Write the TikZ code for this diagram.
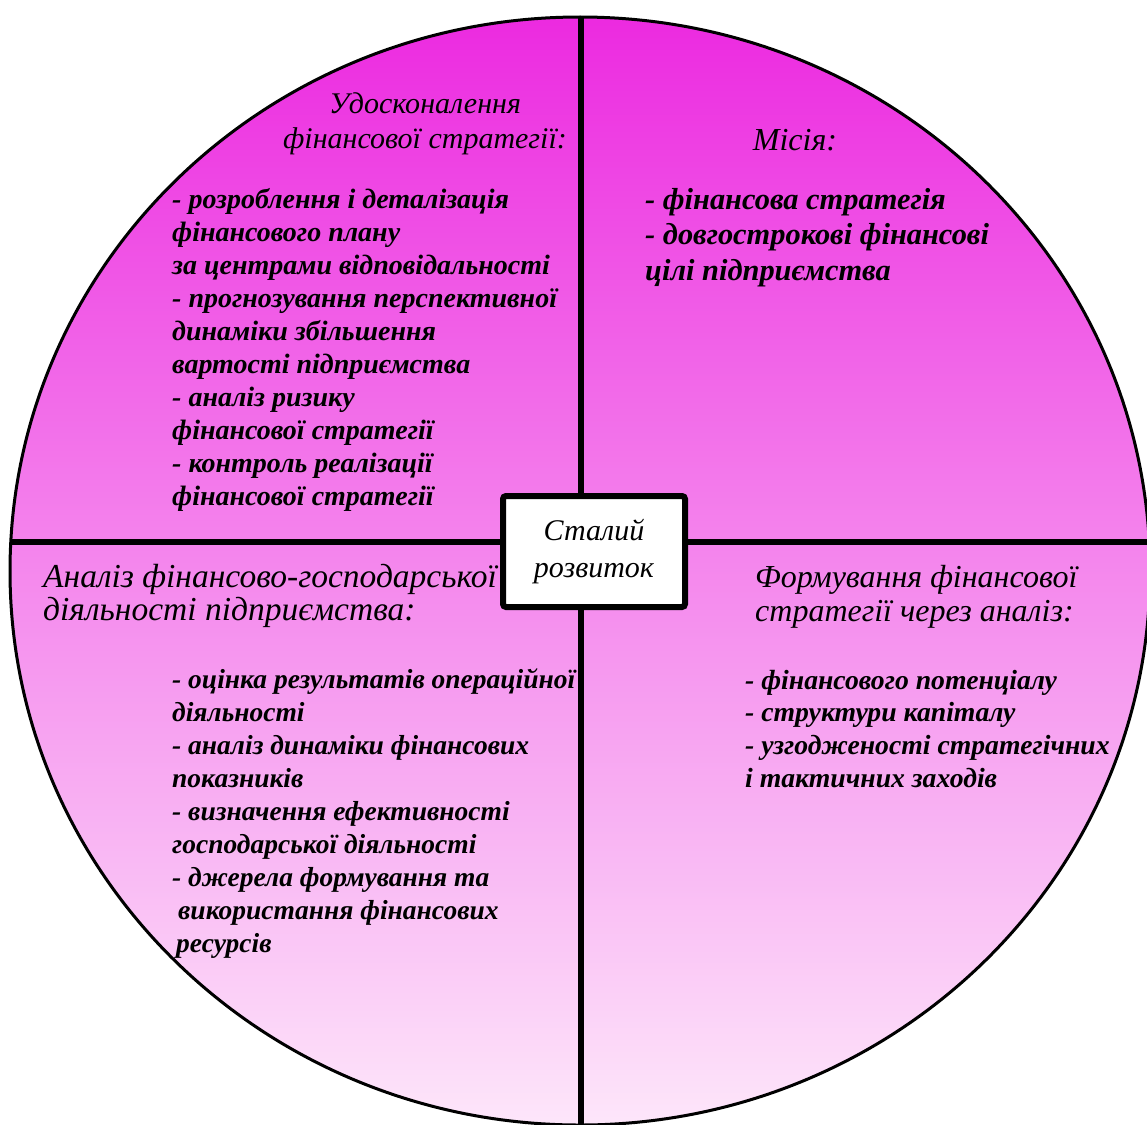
\documentclass[tikz,border=0pt]{standalone}
\usepackage{fontspec}
\setmainfont{Liberation Serif}
\begin{document}
\begin{tikzpicture}[x=1pt,y=1pt]
\definecolor{topc}{RGB}{236,42,224}
\definecolor{midc}{RGB}{243,108,232}
\definecolor{botc}{RGB}{253,230,250}
\tikzset{
  headtxt/.style={font=\fontsize{32}{35}\selectfont\itshape, inner sep=0pt},
  itemtxt/.style={font=\fontsize{28}{33}\selectfont\bfseries\itshape, inner sep=0pt, anchor=base west},
  divider/.style={line width=6.5pt},
  corebox/.style={draw, line width=6pt, fill=white, rounded corners=3pt,
    minimum width=182pt, minimum height=111pt, align=center,
    font=\fontsize{30}{37}\selectfont\itshape},
}
\useasboundingbox (0,0) rectangle (1147,-1124);
\fill[white] (0,0) rectangle (1147,-1124);
\shade[top color=topc, middle color=midc, bottom color=botc]
  (580,-571) ellipse [x radius=570, y radius=554];
\draw[line width=3pt] (580,-571) ellipse [x radius=570, y radius=554];

\coordinate (vt) at (581,-17);
\coordinate (vb) at (581,-1124);
\coordinate (hl) at (11,-542);
\coordinate (hr) at (1147,-542);
\draw[divider] (vt) -- (vb);
\draw[divider] (hl) -- (hr);

\node[corebox] (core) at (594,-551.5) {Сталий\\розвиток};

% headings
\node[headtxt, align=center, font=\fontsize{30}{35}\selectfont\itshape] (h1) at (425,-124) {Удосконалення\\фінансової стратегії:};
\node[headtxt] (h2) at (795,-140) {Місія:};
\node[headtxt, anchor=base west, font=\fontsize{33.5}{35}\selectfont\itshape] (h3a) at (43,-587) {Аналіз фінансово-господарської};
\node[headtxt, anchor=base west, font=\fontsize{33.5}{35}\selectfont\itshape] (h3b) at (43,-620) {діяльності підприємства:};
\node[headtxt, anchor=base west] (h4a) at (755,-587) {Формування фінансової};
\node[headtxt, anchor=base west] (h4b) at (755,-621) {стратегії через аналіз:};

% top-left list
\foreach \t [count=\i from 0] in {
  {- розроблення і деталізація},
  {фінансового плану},
  {за центрами відповідальності},
  {- прогнозування перспективної},
  {динаміки збільшення},
  {вартості підприємства},
  {- аналіз ризику},
  {фінансової стратегії},
  {- контроль реалізації},
  {фінансової стратегії}}
  \node[itemtxt] (tl\i) at (172,-208-33*\i) {\t};

% top-right list
\foreach \t [count=\i from 0] in {
  {- фінансова стратегія},
  {- довгострокові фінансові},
  {цілі підприємства}}
  \node[itemtxt, font=\fontsize{30.4}{35}\selectfont\bfseries\itshape] (tr\i) at (645,-209-35.5*\i) {\t};

% bottom-left list
\foreach \dx/\t [count=\i from 0] in {
  0/{- оцінка результатів операційної},
  0/{діяльності},
  0/{- аналіз динаміки фінансових},
  0/{показників},
  0/{- визначення ефективності},
  0/{господарської діяльності},
  0/{- джерела формування та},
  6/{використання фінансових},
  4/{ресурсів}}
  \node[itemtxt, font=\fontsize{27.5}{33}\selectfont\bfseries\itshape] (bl\i) at (172+\dx,-688-33*\i) {\t};

% bottom-right list
\foreach \t [count=\i from 0] in {
  {- фінансового потенціалу},
  {- структури капіталу},
  {- узгодженості стратегічних},
  {і тактичних заходів}}
  \node[itemtxt, font=\fontsize{27.7}{33}\selectfont\bfseries\itshape] (br\i) at (745,-689-32.7*\i) {\t};
\end{tikzpicture}
\end{document}
